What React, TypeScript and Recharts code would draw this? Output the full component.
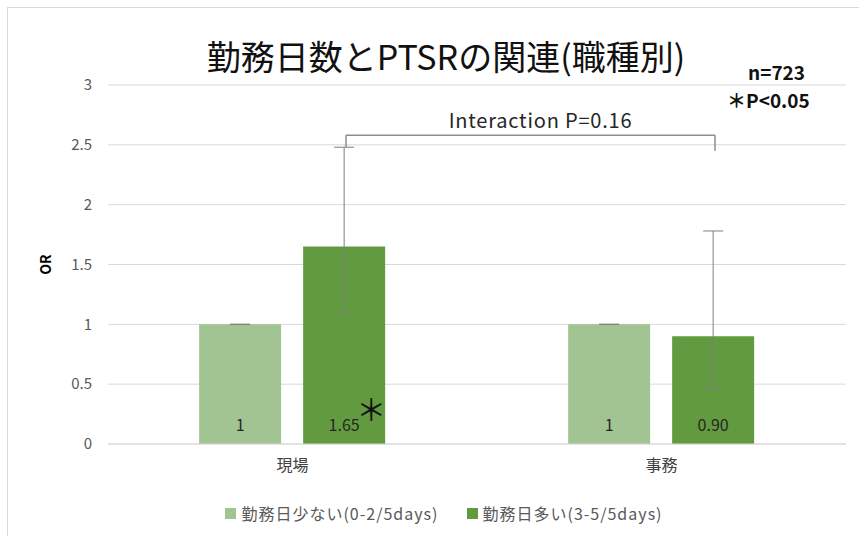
import React from "react";
import {
  ComposedChart,
  Bar,
  XAxis,
  YAxis,
  CartesianGrid,
  ErrorBar,
  LabelList,
  Legend,
  ReferenceLine,
} from "recharts";

const categories = ["現場", "事務"];
const fewDaysOR = [1, 1];
const manyDaysOR = [1.65, 0.9];
const manyDaysLower = [1.1, 0.46];
const manyDaysUpper = [2.48, 1.78];
const fewDaysText = ["1", "1"];
const manyDaysText = ["1.65", "0.90"];
const significant = [true, false];
const yTicks = [0, 0.5, 1, 1.5, 2, 2.5, 3];

const seriesNames = ["勤務日少ない(0-2/5days)", "勤務日多い(3-5/5days)"];
const seriesColors = ["#a2c493", "#629b3f"];

// bracket for the interaction test, in category units (0..2) on the hidden position axis
const bracketX = [0.645, 1.645];
const bracketTop = 2.58;
const bracketRightEnd = 2.45;

const data = categories.map((name, i) => ({
  name,
  few: fewDaysOR[i],
  many: manyDaysOR[i],
  fewErr: [0, 0],
  manyErr: [manyDaysOR[i] - manyDaysLower[i], manyDaysUpper[i] - manyDaysOR[i]],
}));

const FONT = "'Noto Sans CJK JP', 'Noto Sans', sans-serif";
const BRACKET = "#8c8c8c";
const posX = (v: number) => v / categories.length;

function ValueLabel(texts: string[], marks: boolean[] | null) {
  return (props: any) => {
    const { x, y, width, height, index } = props;
    const cx = x + width / 2;
    const bottom = y + height;
    return (
      <g>
        <text x={cx} y={bottom - 20} textAnchor="middle" dominantBaseline="central" fill="#262626" fontSize={16}>
          {texts[index]}
        </text>
        {marks && marks[index] ? (
          <text x={x + width - 14} y={bottom - 36} textAnchor="middle" dominantBaseline="central" fill="#111" fontSize={30}>
            ＊
          </text>
        ) : null}
      </g>
    );
  };
}

function LegendBox() {
  return (
    <div style={{ display: "flex", justifyContent: "center", gap: 28, height: 24, alignItems: "center", fontFamily: FONT, paddingLeft: 42 }}>
      {seriesNames.map((n, i) => (
        <div key={n} style={{ display: "flex", alignItems: "center", gap: 5 }}>
          <div style={{ width: 11, height: 11, background: seriesColors[i] }}></div>
          <span style={{ fontSize: 16, letterSpacing: 1, color: "#595959" }}>{n}</span>
        </div>
      ))}
    </div>
  );
}

export default function App() {
  return (
    <div style={{ position: "fixed", left: 0, top: 0, width: 859, height: 536, background: "#fff", overflow: "hidden", fontFamily: FONT }}>
      <div style={{ position: "absolute", left: 7, top: 7, width: 900, height: 600, borderLeft: "1px solid #d9d9d9", borderTop: "1px solid #d9d9d9" }}></div>

      <div style={{ position: "absolute", left: 0, top: 0 }}>
        <ComposedChart
          width={859}
          height={536}
          data={data}
          margin={{ top: 85, right: 13, left: 0, bottom: 11 }}
          barCategoryGap="24.7%"
          barGap={22}
          style={{ fontFamily: FONT }}
        >
          <CartesianGrid stroke="#d9d9d9" vertical={false} />
          <XAxis
            dataKey="name"
            height={57}
            tickLine={false}
            axisLine={{ stroke: "#d9d9d9" }}
            tick={{ fill: "#404040", fontSize: 16 }}
            tickMargin={10}
          />
          <XAxis xAxisId="pos" type="number" domain={[0, 1]} allowDataOverflow hide />
          <YAxis
            width={108}
            domain={[0, 3]}
            ticks={yTicks}
            axisLine={false}
            tickLine={false}
            tick={{ fill: "#595959", fontSize: 15 }}
            tickMargin={10}
            label={{
              content: (p: any) => {
                const vb = p.viewBox;
                const cx = vb.x + 45;
                const cy = vb.y + vb.height / 2;
                return (
                  <text x={cx} y={cy} transform={`rotate(-90, ${cx}, ${cy})`} textAnchor="middle" dominantBaseline="central" fontSize={14} fontWeight="bold" fill="#000">
                    OR
                  </text>
                );
              },
            }}
          />
          <Legend verticalAlign="bottom" content={() => <LegendBox />} />

          <Bar dataKey="few" name={seriesNames[0]} fill={seriesColors[0]} isAnimationActive={false}>
            <ErrorBar dataKey="fewErr" width={10} stroke="#7f7f7f" strokeWidth={1} isAnimationActive={false} />
            <LabelList dataKey="few" content={ValueLabel(fewDaysText, null)} />
          </Bar>
          <Bar dataKey="many" name={seriesNames[1]} fill={seriesColors[1]} isAnimationActive={false}>
            <ErrorBar dataKey="manyErr" width={10} stroke="#7f7f7f" strokeWidth={1} isAnimationActive={false} />
            <LabelList dataKey="many" content={ValueLabel(manyDaysText, significant)} />
          </Bar>

          <ReferenceLine
            xAxisId="pos"
            segment={[{ x: posX(bracketX[0]), y: manyDaysUpper[0] }, { x: posX(bracketX[0]), y: bracketTop }]}
            stroke={BRACKET}
            strokeWidth={1.5}
            ifOverflow="visible"
          />
          <ReferenceLine
            xAxisId="pos"
            segment={[{ x: posX(bracketX[0]), y: bracketTop }, { x: posX(bracketX[1]), y: bracketTop }]}
            stroke={BRACKET}
            strokeWidth={1.5}
            ifOverflow="visible"
            label={{
              content: (p: any) => {
                const vb = p.viewBox;
                return (
                  <text x={vb.x + vb.width / 2 + 10} y={vb.y - 16} textAnchor="middle" dominantBaseline="central" fontSize={20} letterSpacing={0.8} fill="#262626">
                    Interaction P=0.16
                  </text>
                );
              },
            }}
          />
          <ReferenceLine
            xAxisId="pos"
            segment={[{ x: posX(bracketX[1]), y: bracketTop }, { x: posX(bracketX[1]), y: bracketRightEnd }]}
            stroke={BRACKET}
            strokeWidth={1.5}
            ifOverflow="visible"
          />
        </ComposedChart>
      </div>

      <div style={{ position: "absolute", left: 0, width: 892, top: 35, textAlign: "center", fontSize: 34, color: "#111", lineHeight: "42px", whiteSpace: "nowrap" }}>
        勤務日数とPTSRの関連(職種別)
      </div>
      <div style={{ position: "absolute", left: 748, top: 60, fontSize: 19, fontWeight: "bold", color: "#111", lineHeight: "24px" }}>
        n=723
      </div>
      <div style={{ position: "absolute", left: 727, top: 88, fontSize: 19, fontWeight: "bold", color: "#111", lineHeight: "24px", whiteSpace: "nowrap" }}>
        ＊P&lt;0.05
      </div>
    </div>
  );
}
